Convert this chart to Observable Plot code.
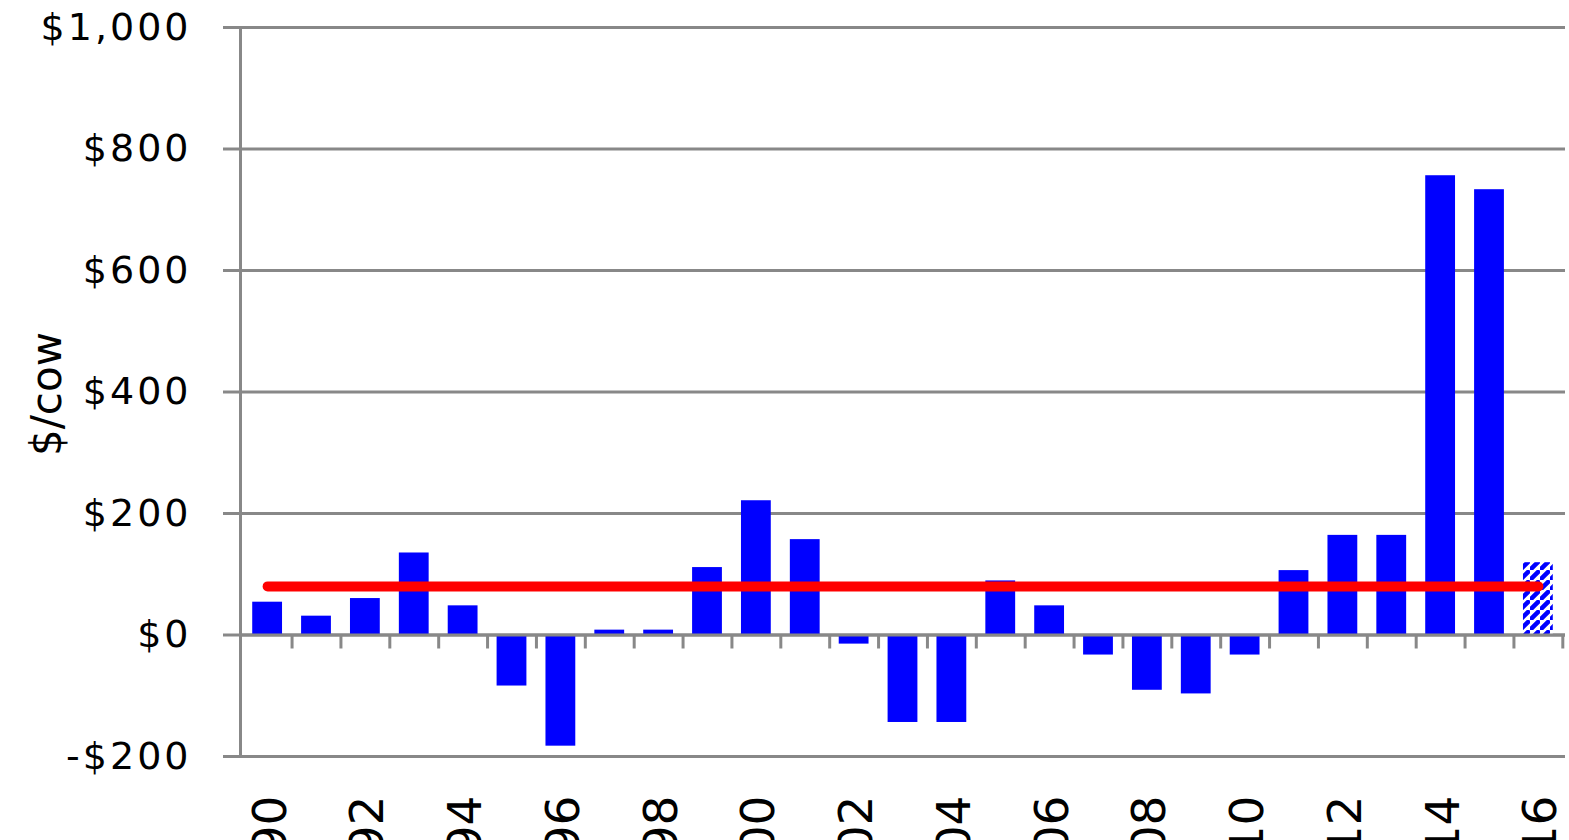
<!DOCTYPE html>
<html>
<head>
<meta charset="utf-8">
<script src="https://cdn.jsdelivr.net/npm/d3@7"></script>
<script src="https://cdn.jsdelivr.net/npm/@observablehq/plot@0.6"></script>
<style>
html, body { margin: 0; padding: 0; background: #ffffff; overflow: hidden; }
#chart { width: 1569px; height: 840px; }
</style>
</head>
<body>
<div id="chart"></div>
<script>
// ---- data ----
const years = [1990, 1991, 1992, 1993, 1994, 1995, 1996, 1997, 1998, 1999,
               2000, 2001, 2002, 2003, 2004, 2005, 2006, 2007, 2008, 2009,
               2010, 2011, 2012, 2013, 2014, 2015, 2016];
const values = [54, 31, 60, 135, 48, -84, -183, 8, 8, 111,
                221, 157, -15, -144, -144, 89, 48, -33, -91, -97,
                -33, 106, 164, 164, 756, 733, 119];
const forecastYears = [2016];
const avgYears = [1990, 2016];
const avgValues = [80, 80];
const yTicks = [-200, 0, 200, 400, 600, 800, 1000];
const xLabelYears = [1990, 1992, 1994, 1996, 1998, 2000, 2002, 2004, 2006, 2008, 2010, 2012, 2014, 2016];
const xLabels = ["90", "92", "94", "96", "98", "00", "02", "04", "06", "08", "10", "12", "14", "16"];
const yTitle = "$/cow";

// ---- layout ----
const W = 1569, H = 840, mL = 240, mR = 4, mT = 27, mB = 84;
const pIn = 0.39, pOut = 0.25;
const step = (W - mL - mR) / (years.length - pIn + 2 * pOut);
const yDomain = [-200, 1000];
const tickLen = 14 * (yDomain[1] - yDomain[0]) / (H - mT - mB);

const rows = years.map((year, i) => ({year, value: values[i], forecast: forecastYears.includes(year)}));
const actual = rows.filter(d => !d.forecast);
const forecast = rows.filter(d => d.forecast);
const avg = avgYears.map((year, i) => ({year, value: avgValues[i]}));
const xLab = xLabelYears.map((year, i) => ({year, label: xLabels[i]}));

const fmt = d => (d < 0 ? "-" : "") + "$" + d3.format(",")(Math.abs(d));

const plot = Plot.plot({
  width: W,
  height: H,
  marginLeft: mL,
  marginRight: mR,
  marginTop: mT,
  marginBottom: mB,
  style: {fontFamily: "DejaVu Sans", background: "#ffffff", color: "#000000", overflow: "visible"},
  x: {type: "band", domain: years, paddingInner: pIn, paddingOuter: pOut, round: false, axis: null},
  y: {domain: yDomain, axis: null, label: null},
  marks: [
    Plot.gridY(yTicks, {stroke: "#888888", strokeOpacity: 1, strokeWidth: 3}),
    Plot.barY(actual, {x: "year", y: "value", fill: "#0000ff"}),
    Plot.barY(forecast, {x: "year", y: "value", fill: "url(#hatch)"}),
    Plot.ruleY([0], {stroke: "#888888", strokeWidth: 3}),
    Plot.ruleX(years, {x: d => d, y1: 0, y2: -tickLen, dx: step / 2, stroke: "#888888", strokeWidth: 3}),
    Plot.frame({anchor: "left", stroke: "#888888", strokeWidth: 3}),
    Plot.axisY(yTicks, {anchor: "left", label: null, tickSize: 17, tickPadding: 32, stroke: "#888888", strokeWidth: 3,
                        fontSize: 38, tickFormat: fmt}),
    Plot.lineY(avg, {x: "year", y: "value", stroke: "#ff0000", strokeWidth: 10, strokeLinecap: "round"}),
    Plot.text(xLab, {x: "year", text: "label", frameAnchor: "bottom", dy: 39, dx: 3, rotate: -90,
                     textAnchor: "end", lineAnchor: "middle", fontSize: 47, fill: "#000000"}),
    Plot.text([yTitle], {frameAnchor: "left", dx: -180, dy: 2, rotate: -90, textAnchor: "middle", lineAnchor: "bottom",
                         fontSize: 42, fontFamily: "DejaVu Sans", fill: "#000000"})
  ]
});

// hatch pattern for the forecast bar
const svg = d3.select(plot);
const defs = svg.insert("defs", ":first-child");
const pat = defs.append("pattern")
  .attr("id", "hatch")
  .attr("patternUnits", "userSpaceOnUse")
  .attr("width", 10).attr("height", 10);
pat.append("rect").attr("width", 10).attr("height", 10).attr("fill", "#ffffff");
pat.append("path").attr("d", "M1,9 L8,2").attr("stroke", "#0000ff").attr("stroke-width", 4.5).attr("stroke-linecap", "square");

svg.selectAll('g[aria-label="y-axis tick label"] text').attr("letter-spacing", "3px");

document.getElementById("chart").appendChild(plot);
</script>
</body>
</html>
